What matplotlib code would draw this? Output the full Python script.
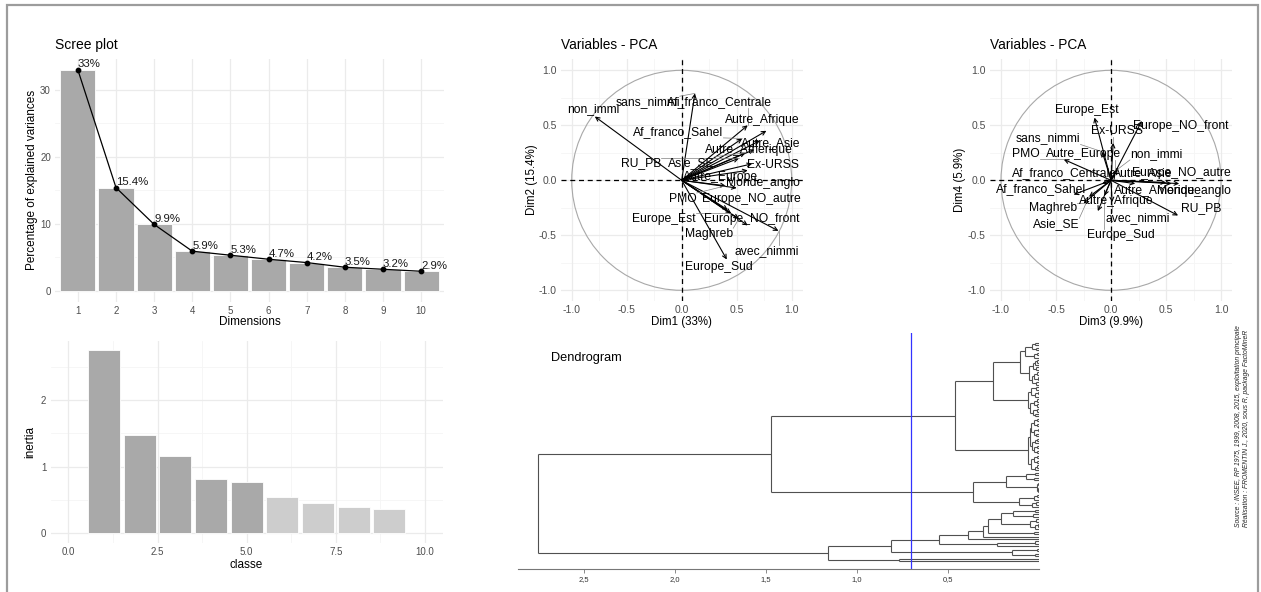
import re
import matplotlib
matplotlib.use('Agg')
import matplotlib.pyplot as plt
import numpy as np
from matplotlib.patches import Circle, Rectangle

plt.rcParams['font.family'] = ['Liberation Sans', 'DejaVu Sans']

# ---------------- data ----------------
dims = [1, 2, 3, 4, 5, 6, 7, 8, 9, 10]
var_pct = [33.0, 15.4, 9.9, 5.9, 5.3, 4.7, 4.2, 3.5, 3.2, 2.9]

classes = [1, 2, 3, 4, 5, 6, 7, 8, 9]
inertia = [2.75, 1.47, 1.16, 0.81, 0.77, 0.55, 0.46, 0.39, 0.365]
n_kept = 5

var_names = ["non_immi", "sans_nimmi", "Af_franco_Centrale", "Autre_Afrique", "Af_franco_Sahel",
             "Autre_Asie", "Autre_Amerique", "RU_PB", "Asie_SE", "Ex-URSS", "Autre_Europe",
             "Monde_anglo", "PMO", "Europe_NO_autre", "Europe_Est", "Europe_NO_front",
             "Maghreb", "avec_nimmi", "Europe_Sud"]
dim1 = [-0.79, 0.12, 0.60, 0.77, 0.55, 0.71, 0.66, 0.52, 0.58, 0.64, 0.60,
        0.50, 0.40, 0.42, 0.45, 0.60, 0.52, 0.88, 0.41]
dim2 = [0.58, 0.79, 0.50, 0.45, 0.38, 0.36, 0.28, 0.20, 0.25, 0.15, 0.09,
        -0.07, -0.05, -0.27, -0.30, -0.41, -0.35, -0.46, -0.72]
dim3 = [0.06, -0.08, -0.08, -0.12, -0.34, 0.22, 0.50, 0.61, -0.20, 0.02, 0.04,
        0.55, -0.43, 0.62, -0.15, 0.28, -0.25, 0.01, -0.06]
dim4 = [0.10, 0.26, -0.03, -0.28, -0.13, -0.03, -0.02, -0.32, -0.15, 0.34, 0.06,
        -0.03, 0.19, -0.03, 0.57, 0.54, -0.21, -0.20, -0.14]

cut_height = 0.70
# hierarchical tree: "(" children ")height", "." = leaf
T1 = "(((..)0.02 (..)0.015)0.04 ((..)0.01 .)0.03)0.075"
T2 = "((((..)0.01 .)0.02 (..)0.015)0.035 (((..)0.012 (..)0.008)0.025 (..)0.018)0.04)0.055"
A112 = "(((..)0.015 ((..)0.006 .)0.02)0.045 (((..)0.01 (..)0.012)0.03 ((..)0.01 (..)0.02)0.035)0.05)0.06"
A12X = "((((..)0.01 (..)0.012)0.025 ((..)0.008 (..)0.015)0.03)0.045 (((..)0.01 .)0.02 ((..)0.01 (..)0.01)0.025)0.04)0.05"
A12Y = "(((..)0.01 (..)0.012)0.03 ((..)0.01 .)0.02)0.045"
A211 = "((..)0.02 (..)0.03)0.07"
A212 = "((..)0.005 ((..)0.004 .)0.008)0.012"
A22 = "(((..)0.01 .)0.03 ((..)0.015 .)0.04)0.11"
C = "((..)0.02 (..)0.035)0.14"
D = "((..)0.015 ((..)0.008 .)0.02)0.05"
B112 = "((..)0.02 .)0.23"
B12 = "((..)0.01 (..)0.02)0.15"
B2 = "(..)0.77"

tree_str = ("(((((" + T1 + " " + T2 + ")0.105 " + A112 + ")0.25 (" + A12X + " " + A12Y + ")0.06)0.46 "
            "((" + A211 + " " + A212 + ")0.18 " + A22 + ")0.365)1.47 "
            "(((((((" + C + " " + D + ")0.21 (..)0.03)0.28 .)0.31 .)0.39 " + B112 + ")0.55 " + B12 + ")0.81 "
            + B2 + ")1.16)2.75")

source_lines = ["Source : INSEE, RP 1975, 1999, 2008, 2015, exploitation principale",
                "Réalisation : FROMENTIN J., 2020, sous R, package FactoMineR"]

# ---------------- figure ----------------
W, H = 1261, 592
fig = plt.figure(figsize=(W / 100, H / 100), dpi=100)
fig.patch.set_facecolor('white')

def ax_px(l, t, r, b):
    return fig.add_axes([l / W, 1 - b / H, (r - l) / W, (b - t) / H])

def ftext(x, y, s, **kw):
    return fig.text(x / W, 1 - y / H, s, **kw)

GRID = '#EBEBEB'
GRIDMIN = '#F5F5F5'
TICKC = '#4D4D4D'
BAR = '#A9A9A9'
BAR2 = '#CDCDCD'

def minimal(ax, ts=7):
    for sp in ax.spines.values():
        sp.set_visible(False)
    ax.tick_params(length=0, labelsize=ts, labelcolor=TICKC, pad=3)
    ax.set_axisbelow(True)

def grid_lines(ax, xs_major, ys_major, xs_minor, ys_minor):
    for v in xs_minor:
        ax.axvline(v, color=GRIDMIN, lw=0.6, zorder=0)
    for v in ys_minor:
        ax.axhline(v, color=GRIDMIN, lw=0.6, zorder=0)
    for v in xs_major:
        ax.axvline(v, color=GRID, lw=0.9, zorder=0)
    for v in ys_major:
        ax.axhline(v, color=GRID, lw=0.9, zorder=0)

# ---- Scree plot ----
ax1 = ax_px(55, 58.9, 444, 301.7)
minimal(ax1)
ax1.set_xlim(0.4, 10.6)
ax1.set_ylim(-1.65, 34.65)
grid_lines(ax1, dims, [0, 10, 20, 30], [], [5, 15, 25])
ax1.bar(dims, var_pct, width=0.92, color=BAR, edgecolor='white', lw=0.6, zorder=2)
ax1.plot(dims, var_pct, color='black', lw=0.9, zorder=3)
ax1.scatter(dims, var_pct, s=10, color='black', zorder=4)
for d, v in zip(dims, var_pct):
    ax1.annotate(f"{v:g}%", (d, v), xytext=(0, 0.5), textcoords='offset points',
                 ha='left', va='bottom', fontsize=8.2, color='#1a1a1a', zorder=5)
ax1.set_xticks(dims)
ax1.set_xticklabels([str(d) for d in dims])
ax1.set_yticks([0, 10, 20, 30])
ftext(55, 45, "Scree plot", fontsize=10, ha='left', va='center')
ftext(32, 180, "Percentage of explained variances", fontsize=8.5, rotation=90, ha='center', va='center')
ftext(249.5, 322, "Dimensions", fontsize=8.5, ha='center', va='center')

# ---- Inertia ----
ax2 = ax_px(50.5, 340.7, 442.9, 542.5)
minimal(ax2)
ax2.set_xlim(-0.5, 10.5)
ax2.set_ylim(-0.1375, 2.8875)
grid_lines(ax2, [0, 2.5, 5, 7.5, 10], [0, 1, 2], [1.25, 3.75, 6.25, 8.75], [0.5, 1.5, 2.5])
cols = [BAR if i < n_kept else BAR2 for i in range(len(classes))]
ax2.bar(classes, inertia, width=0.9, color=cols, edgecolor='white', lw=0.6, zorder=2)
ax2.set_xticks([0, 2.5, 5, 7.5, 10])
ax2.set_xticklabels(["0.0", "2.5", "5.0", "7.5", "10.0"])
ax2.set_yticks([0, 1, 2])
ftext(30, 441.6, "inertia", fontsize=8.5, rotation=90, ha='center', va='center')
ftext(246, 565, "classe", fontsize=8.5, ha='center', va='center')

# ---- PCA variable panels ----
label_pos1 = {
    "non_immi": (-0.80, 0.65), "sans_nimmi": (-0.31, 0.71), "Af_franco_Centrale": (0.34, 0.71),
    "Autre_Afrique": (0.73, 0.55), "Af_franco_Sahel": (-0.03, 0.44), "Autre_Asie": (0.81, 0.34),
    "Autre_Amerique": (0.61, 0.28), "RU_PB": (-0.37, 0.16), "Asie_SE": (0.09, 0.16),
    "Ex-URSS": (0.83, 0.14), "Autre_Europe": (0.35, 0.03), "Monde_anglo": (0.74, -0.02),
    "PMO": (0.01, -0.17), "Europe_NO_autre": (0.63, -0.17), "Europe_Est": (-0.16, -0.35),
    "Europe_NO_front": (0.64, -0.35), "Maghreb": (0.25, -0.49), "avec_nimmi": (0.77, -0.64),
    "Europe_Sud": (0.34, -0.79)}
label_pos2 = {
    "Europe_Est": (-0.22, 0.64), "Ex-URSS": (0.05, 0.45), "Europe_NO_front": (0.63, 0.49),
    "sans_nimmi": (-0.57, 0.38), "non_immi": (0.41, 0.24), "PMO": (-0.77, 0.24),
    "Autre_Europe": (-0.25, 0.24), "Af_franco_Centrale": (-0.42, 0.07), "Autre_Asie": (0.29, 0.07),
    "Europe_NO_autre": (0.64, 0.07), "Af_franco_Sahel": (-0.64, -0.08), "Autre_Amerique": (0.43, -0.10),
    "Monde_anglo": (0.75, -0.10), "Autre_Afrique": (0.05, -0.19), "Maghreb": (-0.53, -0.25),
    "RU_PB": (0.82, -0.25), "avec_nimmi": (0.24, -0.34), "Asie_SE": (-0.50, -0.40),
    "Europe_Sud": (0.09, -0.50)}

all_texts = []

def var_panel(cx, xs, ys, lpos, title, xlab, ylab, title_x, ylab_x):
    ax = ax_px(cx - 121, 59.3, cx + 121, 301.3)
    minimal(ax, ts=7.5)
    ax.set_xlim(-1.1, 1.1)
    ax.set_ylim(-1.1, 1.1)
    ticks = [-1.0, -0.5, 0.0, 0.5, 1.0]
    grid_lines(ax, ticks, ticks, [-0.75, -0.25, 0.25, 0.75], [-0.75, -0.25, 0.25, 0.75])
    ax.set_xticks(ticks)
    ax.set_xticklabels(["-1.0", "-0.5", "0.0", "0.5", "1.0"])
    ax.set_yticks(ticks)
    ax.set_yticklabels(["-1.0", "-0.5", "0.0", "0.5", "1.0"])
    ax.add_patch(Circle((0, 0), 1.0, fill=False, ec='#A8A8A8', lw=0.8, zorder=1))
    ax.axhline(0, color='black', ls=(0, (4, 3)), lw=0.9, zorder=2)
    ax.axvline(0, color='black', ls=(0, (4, 3)), lw=0.9, zorder=2)
    for name, x, y in zip(var_names, xs, ys):
        ax.annotate('', xy=(x, y), xytext=(0, 0),
                    arrowprops=dict(arrowstyle='->', color='black', lw=0.8,
                                    shrinkA=0, shrinkB=0, mutation_scale=7), zorder=3)
        lx, ly = lpos[name]
        t = ax.text(lx, ly, name, ha='center', va='center', fontsize=8.7, color='black', zorder=5)
        all_texts.append((ax, t, x, y))
    ftext(title_x, 45, title, fontsize=9.8, ha='left', va='center')
    ftext(cx, 322, xlab, fontsize=8.3, ha='center', va='center')
    ftext(ylab_x, 180, ylab, fontsize=8.3, rotation=90, ha='center', va='center')
    return ax

var_panel(681.7, dim1, dim2, label_pos1, "Variables - PCA",
          f"Dim1 ({var_pct[0]:g}%)", f"Dim2 ({var_pct[1]:g}%)", 560.7, 531.7)
var_panel(1111, dim3, dim4, label_pos2, "Variables - PCA",
          f"Dim3 ({var_pct[2]:g}%)", f"Dim4 ({var_pct[3]:g}%)", 990, 960)

# ---- Dendrogram ----
def parse_tree(s):
    tokens = re.findall(r'\(|\)[0-9.]+|\.', s)
    stack = [[]]
    for tk in tokens:
        if tk == '(':
            stack.append([])
        elif tk == '.':
            stack[-1].append({'h': 0.0, 'ch': []})
        else:
            ch = stack.pop()
            stack[-1].append({'h': float(tk[1:]), 'ch': ch})
    return stack[0][0]

root = parse_tree(tree_str)
def count(n):
    if not n['ch']:
        return 1
    return sum(count(c) for c in n['ch'])
n_leaves = count(root)
y_top, y_bot = 343.0, 561.0
step = (y_bot - y_top) / (n_leaves - 1)

axd = ax_px(518, 333, 1039, 569)
axd.set_xlim(2.86, 0)
axd.set_ylim(569, 333)
segs = []
counter = [0]
def layout(n):
    if not n['ch']:
        y = y_top + counter[0] * step
        counter[0] += 1
        return y
    ys = [layout(c) for c in n['ch']]
    for c, yc in zip(n['ch'], ys):
        segs.append(((c['h'], n['h']), (yc, yc)))
    segs.append(((n['h'], n['h']), (min(ys), max(ys))))
    return float(np.mean(ys))
layout(root)
for xs_, ys_ in segs:
    axd.plot(xs_, ys_, color='#505050', lw=0.8, solid_capstyle='butt')
axd.axvline(cut_height, color='#3333ff', lw=0.9)
for k in ['left', 'right', 'top']:
    axd.spines[k].set_visible(False)
axd.spines['bottom'].set_color('#777777')
axd.spines['bottom'].set_linewidth(0.8)
axd.set_yticks([])
dt = [2.5, 2.0, 1.5, 1.0, 0.5]
axd.set_xticks(dt)
axd.set_xticklabels([f"{v:.1f}".replace('.', ',') for v in dt])
axd.tick_params(axis='x', length=3, width=0.6, color='#777777', labelsize=5.5, labelcolor='#333333', pad=2)
ftext(551, 358, "Dendrogram", fontsize=9.2, ha='left', va='center')

# ---- source text ----
ftext(1238, 527, source_lines[0], fontsize=4.9, style='italic', rotation=90, ha='center', va='bottom',
      color='#222222')
ftext(1247, 527, source_lines[1], fontsize=4.9, style='italic', rotation=90, ha='center', va='bottom',
      color='#222222')

# ---- outer frame ----
fig.patches.append(Rectangle((7 / W, -0.05), (1258 - 7) / W, (592 - 5) / H + 0.05,
                             transform=fig.transFigure, fill=False, ec='#9C9C9C', lw=1.6))

# ---- label segments (repel-like) ----
fig.canvas.draw()
renderer = fig.canvas.get_renderer()
for ax, t, x, y in all_texts:
    bb = t.get_window_extent(renderer)
    px, py = ax.transData.transform((x, y))
    cx_ = min(max(px, bb.x0), bb.x1)
    cy_ = min(max(py, bb.y0), bb.y1)
    if np.hypot(px - cx_, py - cy_) > 6:
        inv = ax.transData.inverted()
        a = inv.transform((cx_, cy_))
        ax.plot([a[0], x], [a[1], y], color='#808080', lw=0.5, zorder=4)

fig.savefig('out.png', dpi=100)
